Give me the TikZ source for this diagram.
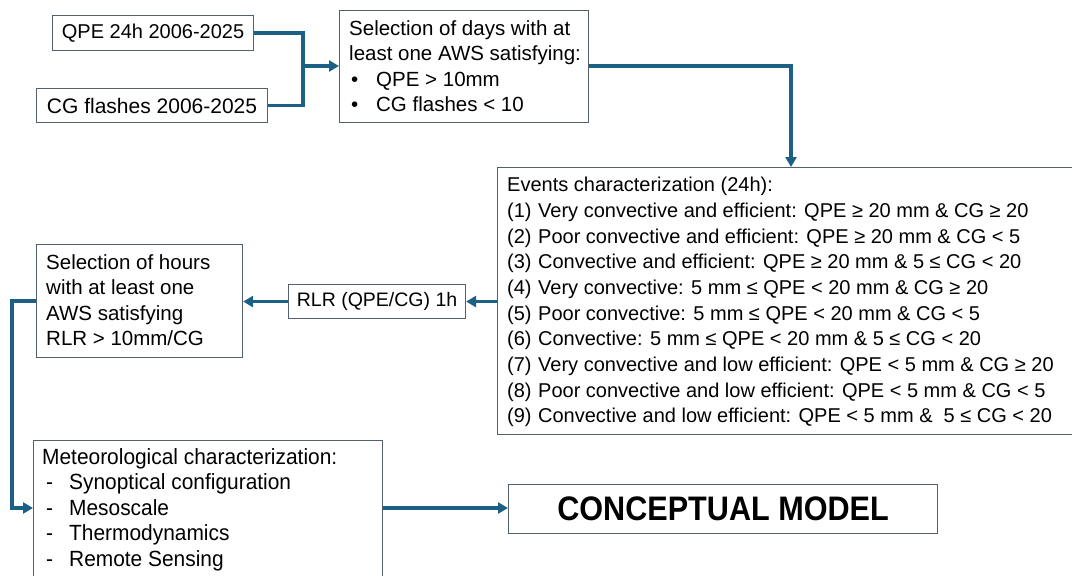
\documentclass[tikz,border=0pt]{standalone}
\usepackage{fontspec}
\setmainfont{Liberation Sans}
\newfontfamily\narrowsans[FakeStretch=0.95]{Liberation Sans}
\newfontfamily\titlesans[FakeStretch=0.9]{Liberation Sans}
\usetikzlibrary{arrows.meta,calc}
\definecolor{flow}{RGB}{28,97,133}
\definecolor{frame}{RGB}{84,96,108}
\begin{document}
\begin{tikzpicture}[x=1pt,y=-1pt,
  box/.style={draw=frame,line width=1.1pt,inner sep=0pt,fill=white},
  txt/.style={inner sep=0pt,anchor=north west,align=left,
    font=\fontsize{20.5}{25.6}\selectfont},
  link/.style={draw=flow,line width=3.4pt,
    -{Triangle[length=10pt,width=11pt]}},
  plain/.style={draw=flow,line width=3.4pt}]
\useasboundingbox (0,0) rectangle (1072,576);

% input data boxes
\node[box,minimum width=201pt,minimum height=35pt,anchor=north west] (qpe) at (52,15) {};
\node[inner sep=0pt,font=\fontsize{20}{24}\selectfont] (qpet) at (qpe.center) {QPE 24h 2006-2025};
\node[box,minimum width=231pt,minimum height=34pt,anchor=north west] (cg) at (36,88) {};
\node[inner sep=0pt,font=\fontsize{21}{24}\selectfont] (cgt) at (cg.center) {CG flashes 2006-2025};

% daily selection
\node[box,minimum width=249pt,minimum height=112pt,anchor=north west] (days) at (339,10) {};
\node[txt] (dayst) at (349,20) {Selection of days with at\\least one AWS satisfying:\\
  \makebox[27pt][l]{\hspace{2pt}\textbullet}QPE > 10mm\\
  \makebox[27pt][l]{\hspace{2pt}\textbullet}CG flashes < 10};

% event classes
\node[box,minimum width=590pt,minimum height=267pt,anchor=north west] (events) at (497,167) {};
\node[txt,font=\fontsize{20}{25.7}\selectfont] (eventst) at (507,177) {Events characterization (24h):\\
  \makebox[31pt][l]{(1)}Very convective and efficient: QPE ≥ 20 mm \& CG ≥ 20\\
  \makebox[31pt][l]{(2)}Poor convective and efficient: QPE ≥ 20 mm \& CG < 5\\
  \makebox[31pt][l]{(3)}Convective and efficient: QPE ≥ 20 mm \& 5 ≤ CG < 20\\
  \makebox[31pt][l]{(4)}Very convective: 5 mm ≤ QPE < 20 mm \& CG ≥ 20\\
  \makebox[31pt][l]{(5)}Poor convective: 5 mm ≤ QPE < 20 mm \& CG < 5\\
  \makebox[31pt][l]{(6)}Convective: 5 mm ≤ QPE < 20 mm \& 5 ≤ CG < 20\\
  \makebox[31pt][l]{(7)}Very convective and low efficient: QPE < 5 mm \& CG ≥ 20\\
  \makebox[31pt][l]{(8)}Poor convective and low efficient: QPE < 5 mm \& CG < 5\\
  \makebox[31pt][l]{(9)}Convective and low efficient: QPE < 5 mm \&~~5 ≤ CG < 20};

% hourly ratio
\node[box,minimum width=177pt,minimum height=34pt,anchor=north west] (rlr) at (288,284) {};
\node[inner sep=0pt,font=\fontsize{19.5}{24}\selectfont] (rlrt) at (rlr.center) {RLR (QPE/CG) 1h};

% hourly selection
\node[box,minimum width=206pt,minimum height=113pt,anchor=north west] (hours) at (36,244) {};
\node[txt] (hourst) at (46,254) {Selection of hours\\with at least one\\AWS satisfying\\RLR > 10mm/CG};

% meteorological analysis
\node[box,minimum width=349pt,minimum height=150pt,anchor=north west] (meteo) at (33,440) {};
\node[txt,font=\narrowsans\fontsize{22}{25.5}\selectfont] (meteot) at (42,448) {Meteorological characterization:\\
  \makebox[27pt][l]{\hspace{4pt}-}Synoptical configuration\\
  \makebox[27pt][l]{\hspace{4pt}-}Mesoscale\\
  \makebox[27pt][l]{\hspace{4pt}-}Thermodynamics\\
  \makebox[27pt][l]{\hspace{4pt}-}Remote Sensing};

% final product
\node[box,minimum width=429pt,minimum height=49pt,anchor=north west] (model) at (508,484) {};
\node[inner sep=0pt,font=\titlesans\bfseries\fontsize{34}{38}\selectfont] (modelt) at (model.center) {CONCEPTUAL MODEL};

% connectors
\coordinate (join) at (303,66);
\draw[plain] (qpe.east) -| (join);
\draw[plain] (cg.east) -| (join);
\draw[link] (join) -- (days.west |- join);
\draw[link] (days.east |- join) -| (791,0 |- events.north);
\draw[link] (events.west |- rlr.east) -- (rlr.east);
\draw[link] (rlr.west) -- (hours.east |- rlr.west);
\coordinate (drop) at (12,301);
\draw[link] (hours.west |- drop) -- (drop) |- (meteo.west |- 0,508);
\draw[link] (meteo.east |- 0,508) -- (model.west |- 0,508);
\end{tikzpicture}
\end{document}
